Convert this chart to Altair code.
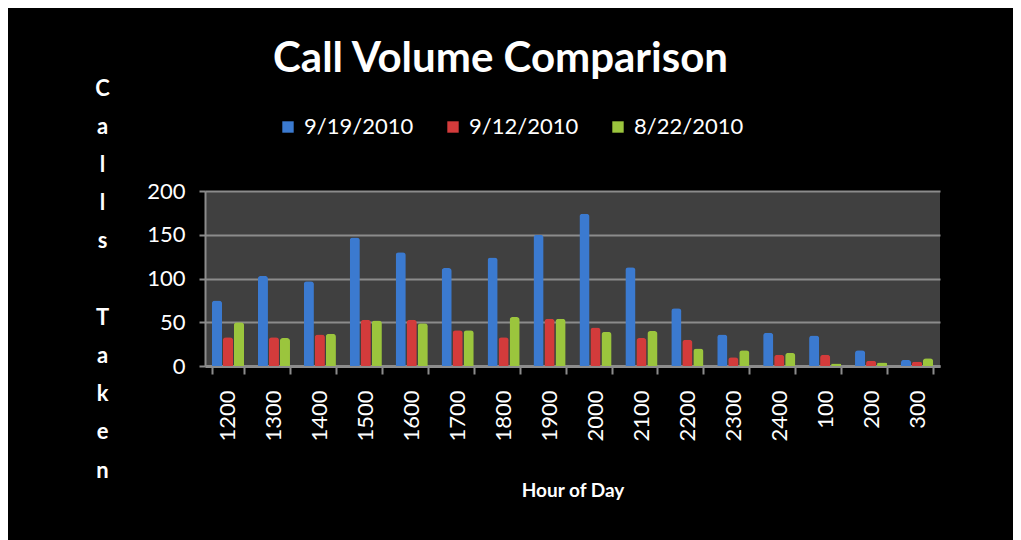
import altair as alt
import pandas as pd

hours = ["1200", "1300", "1400", "1500", "1600", "1700", "1800", "1900",
         "2000", "2100", "2200", "2300", "2400", "100", "200", "300"]
series = ["9/19/2010", "9/12/2010", "8/22/2010"]
calls_0919 = [75, 103, 97, 147, 130, 112, 124, 150, 174, 113, 66, 36, 38, 35, 18, 7]
calls_0912 = [33, 33, 36, 53, 53, 41, 33, 54, 44, 32, 30, 10, 13, 13, 6, 5]
calls_0822 = [50, 32, 37, 52, 49, 41, 56, 54, 39, 40, 20, 18, 15, 3, 4, 9]
colors = ["#3b7ad0", "#d33b3b", "#9bc53d"]
y_ticks = [0, 50, 100, 150, 200]
y_title = ["C", "a", "l", "l", "s", "\u200b", "T", "a", "k", "e", "n"]

rows = []
for s, vals in zip(series, [calls_0919, calls_0912, calls_0822]):
    for h, v in zip(hours, vals):
        rows.append({"hour": h, "series": s, "calls": v})
df = pd.DataFrame(rows)

FONT = "Lato"
GRAY = "#8c8c8c"

chart = alt.Chart(df).mark_bar(cornerRadiusTopLeft=3, cornerRadiusTopRight=3).encode(
    x=alt.X("hour:N", sort=hours,
            scale=alt.Scale(paddingInner=0.3, paddingOuter=0.15),
            axis=alt.Axis(title="Hour of Day", labelAngle=270, labelFont=FONT,
                          labelFontSize=22, labelColor="white", labelPadding=16,
                          tickSize=8, tickColor=GRAY, tickWidth=2, tickBand="extent",
                          domainColor=GRAY, domainWidth=3, grid=False,
                          titleFont=FONT, titleFontSize=19, titleFontWeight="bold",
                          titleColor="white", titleY=124, titleBaseline="middle")),
    xOffset=alt.XOffset("series:N", sort=series, scale=alt.Scale(paddingInner=0.08)),
    y=alt.Y("calls:Q", scale=alt.Scale(domain=[0, 200], nice=False),
            axis=alt.Axis(values=y_ticks, title=y_title, labelFont=FONT,
                          labelFontSize=22, labelColor="white", labelPadding=14,
                          tickSize=6, tickColor=GRAY, tickWidth=2,
                          domainColor=GRAY, domainWidth=2,
                          gridColor=GRAY, gridWidth=2,
                          titleFont=FONT, titleFontSize=22, titleFontWeight="bold",
                          titleColor="white", titleAngle=0, titleAlign="center",
                          titleBaseline="top", titleX=-103, titleY=-113,
                          titleLineHeight=38.2)),
    color=alt.Color("series:N", sort=series,
                    scale=alt.Scale(domain=series, range=colors),
                    legend=alt.Legend(title=None, orient="none", direction="horizontal",
                                      legendX=72, legendY=-75, symbolType="square",
                                      symbolSize=130, symbolStrokeWidth=0,
                                      labelFont=FONT, labelFontSize=22,
                                      labelColor="white", labelOffset=5,
                                      columnPadding=28)),
).properties(
    width=735, height=175,
    padding={"left": 197, "top": 183, "right": 73, "bottom": 174},
    autosize=alt.AutoSizeParams(type="none"),
    background="black",
    title=alt.Title("Call Volume Comparison", font=FONT, fontSize=42,
                    fontWeight="bold", color="white", anchor="middle",
                    dx=-72, dy=8, offset=4),
).configure_view(fill="#404040", strokeWidth=0)

chart.save("out.html", embed_options={"renderer": "svg", "actions": False})
